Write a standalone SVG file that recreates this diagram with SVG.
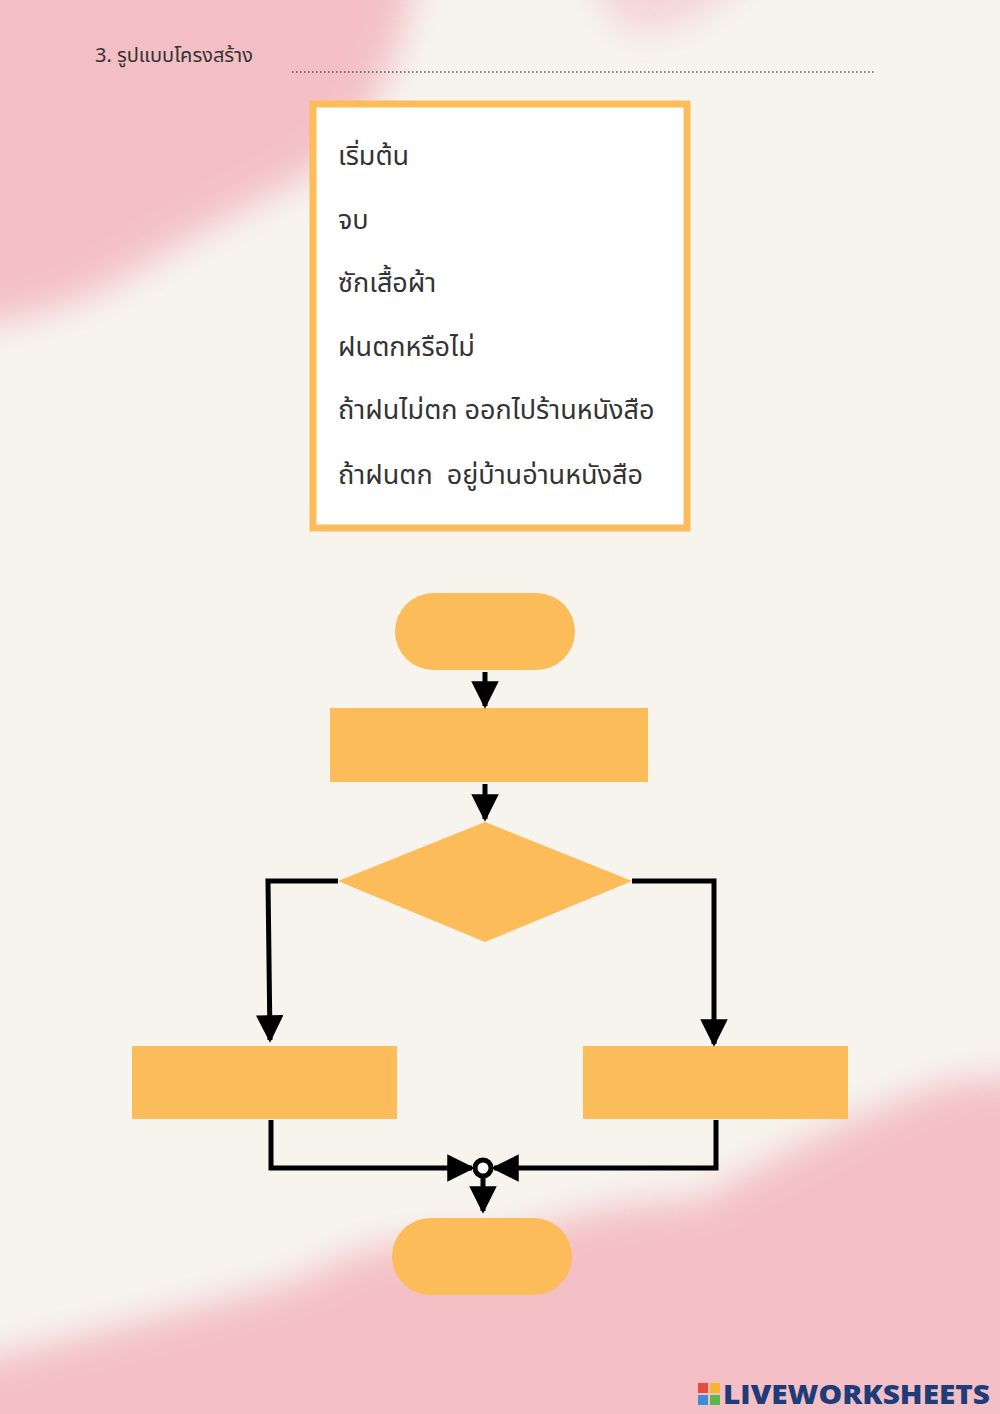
<svg xmlns="http://www.w3.org/2000/svg" width="1000" height="1414" viewBox="0 0 1000 1414">
<style>
.sh{fill:#fdbc5a}
.ln{fill:none;stroke:#000;stroke-width:5}
.tx{font-family:"Noto Sans Thai","Noto Sans","DejaVu Sans",sans-serif;font-size:27px;fill:#333}
</style>
<defs>
<marker id="ar" viewBox="0 0 10 10" refX="9" refY="5" markerWidth="5.5" markerHeight="5.5" orient="auto"><path d="M0,0L10,5L0,10z" fill="#000"/></marker>
<filter id="bl" x="-30%" y="-30%" width="160%" height="160%"><feGaussianBlur stdDeviation="18"/></filter>
</defs>
<rect width="1000" height="1414" fill="#f7f4ee"/>
<g filter="url(#bl)" fill="#f3b3bc" opacity="0.8">
<path d="M-60,-60H420Q400,120 300,180Q200,230 120,280Q50,320 -60,330Z"/>
<path d="M-60,1480V1370Q150,1320 300,1280Q380,1230 500,1240Q600,1200 700,1200Q800,1140 900,1100Q960,1070 1060,1080V1480Z"/>
<path d="M580,-40H760Q700,40 620,30Z" opacity="0.6"/>
</g>
<text x="95" y="62" style="font-family:'Noto Sans Thai','Noto Sans',sans-serif;font-size:20px;fill:#333">3. รูปแบบโครงสร้าง</text>
<line x1="292" y1="72" x2="875" y2="72" stroke="#555" stroke-width="1.5" stroke-dasharray="1.5,2.5"/>
<g id="legend">
<rect x="313" y="104" width="374" height="424" fill="#fff" stroke="#fdbc5a" stroke-width="7"/>
<text class="tx" x="338" y="165">เริ่มต้น</text>
<text class="tx" x="338" y="229">จบ</text>
<text class="tx" x="338" y="292">ซักเสื้อผ้า</text>
<text class="tx" x="338" y="356">ฝนตกหรือไม่</text>
<text class="tx" x="338" y="419">ถ้าฝนไม่ตก ออกไปร้านหนังสือ</text>
<text class="tx" x="338" y="484" xml:space="preserve">ถ้าฝนตก  อยู่บ้านอ่านหนังสือ</text>
</g>
<g id="start"><rect class="sh" x="395" y="593" width="180" height="77" rx="38.5"/></g>
<g id="wash"><rect class="sh" x="330" y="708" width="318" height="74"/></g>
<g id="decision"><polygon class="sh" points="485,822 632,881 485,942 338,881"/></g>
<g id="left"><rect class="sh" x="132" y="1046" width="265" height="73"/></g>
<g id="right"><rect class="sh" x="583" y="1046" width="265" height="73"/></g>
<g id="end"><rect class="sh" x="392" y="1218" width="180" height="77" rx="38.5"/></g>
<g id="connectors">
<path class="ln" d="M485,672V706" marker-end="url(#ar)"/>
<path class="ln" d="M485,784V819" marker-end="url(#ar)"/>
<path class="ln" d="M338,881H268L270,1040" marker-end="url(#ar)"/>
<path class="ln" d="M632,881H714V1044" marker-end="url(#ar)"/>
<path class="ln" d="M271,1120V1168H472" marker-end="url(#ar)"/>
<path class="ln" d="M716,1120V1168H494" marker-end="url(#ar)"/>
<circle cx="483" cy="1168" r="8" fill="#fff" stroke="#000" stroke-width="5"/>
<path class="ln" d="M483,1176V1211" marker-end="url(#ar)"/>
</g>
<g id="logo">
<rect x="698" y="1383" width="10" height="10" fill="#e94b3c"/><rect x="710" y="1383" width="10" height="10" fill="#f6b52e"/>
<rect x="698" y="1395" width="10" height="10" fill="#3b8ed6"/><rect x="710" y="1395" width="10" height="10" fill="#5bb84a"/>
<text x="723" y="1404" textLength="267" lengthAdjust="spacingAndGlyphs" style="font-family:'Open Sans','DejaVu Sans',sans-serif;font-weight:800;font-size:27px;fill:#1d3c78">LIVEWORKSHEETS</text>
</g>
</svg>
